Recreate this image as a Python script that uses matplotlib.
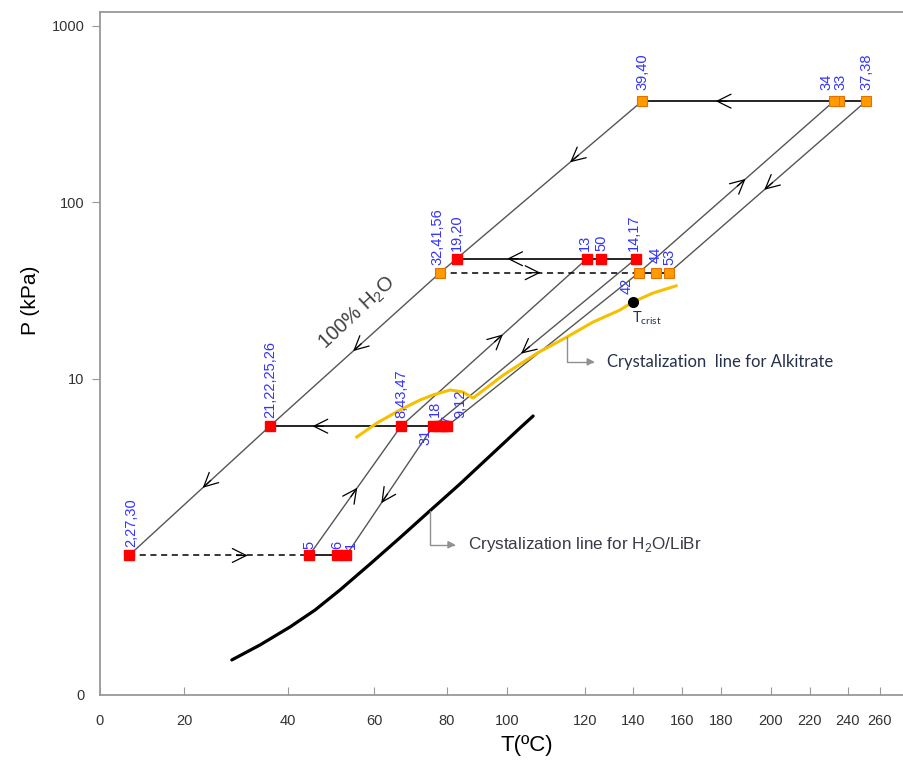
import numpy as np
import matplotlib.pyplot as plt

# Duhring-type chart of the absorption cycle (log pressure vs. temperature)

# points of the cycle, red = H2O/LiBr side, orange = alkitrate side
red_labels = ['2,27,30', '5', '6', '1',
              '21,22,25,26', '8,43,47', '31', '18', '7', '9,12',
              '19,20', '13', '50', '14,17']
red_T = [6.9, 44.9, 51.4, 53.5,
         36.5, 67.4, 76.2, 77.8, 79.2, 80.0,
         83.3, 120.8, 126.7, 141.2]
red_P = [1.0, 1.0, 1.0, 1.0,
         5.4, 5.4, 5.4, 5.4, 5.4, 5.4,
         48, 48, 48, 48]

orange_labels = ['32,41,56', '42', '44', '53', '39,40', '33', '34', '37,38']
orange_T = [78.1, 142.4, 149.4, 154.7, 143.7, 235.3, 232.6, 251.3]
orange_P = [40, 40, 40, 40, 375, 375, 375, 375]

# crystallization line of the alkitrate (yellow)
alk_T = [56.0, 60.8, 67.1, 72.6, 76.2, 81.0, 85.3, 88.7, 98.7, 107.7, 115.4, 123.3, 134.6, 140.0, 148.2, 157.6]
alk_P = [4.69, 5.63, 6.67, 7.60, 8.12, 8.66, 8.44, 7.80, 10.5, 14.0, 17.3, 21.0, 24.6, 27.3, 30.7, 33.7]
t_crist = (140.0, 27.3)

# crystallization line of H2O/LiBr (black)
libr_T = [29.2, 34.6, 40.5, 46.3, 52.1, 59.1, 67.1, 75.3, 84.3, 94.3, 103.3, 106.7]
libr_P = [0.256, 0.311, 0.394, 0.491, 0.638, 0.895, 1.26, 1.79, 2.54, 3.66, 5.27, 6.17]

# temperature axis of the original is not linear
x_ticks = [0, 20, 40, 60, 80, 100, 120, 140, 160, 180, 200, 220, 240, 260]
t_axis = x_ticks + [280]
t_axis_pos = [0, 84, 188, 274, 347, 407, 485, 533, 582, 621, 671, 710, 748, 780, 812]


def fwd(t):
    return np.interp(t, t_axis, t_axis_pos)


def inv(u):
    return np.interp(u, t_axis_pos, t_axis)


pts = {}
for lab, t, p in zip(red_labels, red_T, red_P):
    pts[lab] = (t, p)
for lab, t, p in zip(orange_labels, orange_T, orange_P):
    pts[lab] = (t, p)

fig = plt.figure(figsize=(9.04, 7.62), dpi=100)
ax = fig.add_axes([100 / 904, 1 - 695 / 762, 804 / 904, 683 / 762])
ax.set_xscale('function', functions=(fwd, inv))
ax.set_yscale('log')
ax.set_xlim(0, 275)
ax.set_ylim(0.162, 1200)

gray = '#555555'


def line(labels, **kw):
    xs = [pts[l][0] for l in labels]
    ys = [pts[l][1] for l in labels]
    ax.plot(xs, ys, **kw)


# constant concentration lines
line(['2,27,30', '21,22,25,26', '32,41,56', '39,40'], color=gray, lw=1.0, zorder=2)
line(['5', '8,43,47', '13'], color=gray, lw=1.0, zorder=2)
line(['1', '31', '14,17'], color=gray, lw=1.0, zorder=2)
line(['9,12', '42', '34'], color=gray, lw=1.0, zorder=2)
line(['53', '37,38'], color=gray, lw=1.0, zorder=2)

# pressure levels
line(['39,40', '37,38'], color='k', lw=1.2, zorder=2)
line(['19,20', '14,17'], color='k', lw=1.2, zorder=2)
line(['32,41,56', '42'], color='k', lw=1.1, ls=(0, (4, 3)), zorder=2)
line(['42', '53'], color='k', lw=1.2, zorder=2)
line(['21,22,25,26', '9,12'], color='k', lw=1.2, zorder=2)
line(['2,27,30', '5'], color='k', lw=1.1, ls=(0, (4, 3)), zorder=2)
line(['5', '1'], color='k', lw=1.2, zorder=2)

# crystallization lines
ax.plot(libr_T, libr_P, color='black', lw=2.3, solid_capstyle='round', solid_joinstyle='round', zorder=2)
ax.plot(alk_T, alk_P, color='#f5c000', lw=2.2, solid_joinstyle='round', zorder=2)
ax.plot(*t_crist, 'o', color='black', ms=7, zorder=4)

# markers
ax.plot(red_T, red_P, 's', color='#ff0000', ms=7.2, zorder=4)
ax.plot(orange_T, orange_P, 's', mfc='#ff9a00', mec='#e67000', mew=0.8, ms=7.2, zorder=4)

# point labels (offsets in pixels)
shift = {'2,27,30': (2, 8), '1': (5, 6), '6': (0, 6), '5': (0, 6),
         '18': (-4, 9), '7': (3, 2), '9,12': (13, 8),
         '32,41,56': (-3, 8), '13': (-2, 8), '14,17': (-2, 8),
         '44': (0, 10), '53': (0, 8),
         '39,40': (0, 11), '34': (-7, 11), '33': (1, 11), '37,38': (0, 11)}
below = {'31': (-8, -3), '42': (-12, -5)}
for lab, (t, p) in pts.items():
    if lab in below:
        ax.annotate(lab, (t, p), xytext=below[lab], textcoords='offset pixels',
                    rotation=90, ha='center', va='top', color='#3333ff',
                    fontsize=10.5, family='Liberation Sans', zorder=3)
    else:
        ax.annotate(lab, (t, p), xytext=shift.get(lab, (0, 8)), textcoords='offset pixels',
                    rotation=90, ha='center', va='bottom', color='#3333ff',
                    fontsize=10.5, family='Liberation Sans', zorder=3)


# flow direction arrows
def seg_arrow(a, b, frac):
    pa = ax.transData.transform(pts[a])
    pb = ax.transData.transform(pts[b])
    d = (pb - pa) / np.hypot(*(pb - pa))
    c = pa + frac * (pb - pa)
    ax.annotate('', xy=c + d * 7, xytext=c - d * 4, xycoords='figure pixels',
                textcoords='figure pixels',
                arrowprops=dict(arrowstyle='->,head_length=1.0,head_width=0.5',
                                color='k', lw=0.9, shrinkA=0, shrinkB=0), zorder=3)


seg_arrow('21,22,25,26', '2,27,30', 0.44)
seg_arrow('32,41,56', '21,22,25,26', 0.48)
seg_arrow('39,40', '32,41,56', 0.33)
seg_arrow('37,38', '39,40', 0.64)
seg_arrow('14,17', '19,20', 0.68)
seg_arrow('32,41,56', '42', 0.47)
seg_arrow('9,12', '21,22,25,26', 0.72)
seg_arrow('2,27,30', '5', 0.62)
seg_arrow('5', '8,43,47', 0.48)
seg_arrow('8,43,47', '13', 0.52)
seg_arrow('14,17', '31', 0.54)
seg_arrow('31', '1', 0.55)
seg_arrow('42', '34', 0.52)
seg_arrow('37,38', '53', 0.49)

# texts
ax.text(56.0, 23.5, r'100% H$_\mathregular{2}$O', rotation=43, ha='center', va='center',
        fontsize=14.5, color='#404040', family='Liberation Sans')
ax.text(139.6, 22.0, r'T$_\mathregular{crist}$', ha='left', va='center',
        fontsize=10.5, color='#223344', family='Lato')

lead = dict(arrowstyle='<|-,head_length=0.35,head_width=0.18', color='#909090', lw=1.0,
            connectionstyle='angle,angleA=0,angleB=90,rad=0', relpos=(0, 0.5),
            shrinkA=7, shrinkB=0)
ax.annotate(r'Crystalization line for H$_\mathregular{2}$O/LiBr', xy=(75.3, 1.79),
            xytext=(87.0, 1.15), ha='left', va='center', fontsize=12.3,
            color='#3a3a48', family=['Liberation Sans Narrow', 'Liberation Sans'],
            arrowprops=lead)
ax.annotate('Crystalization  line for Alkitrate', xy=(115.4, 17.3),
            xytext=(129.2, 12.5), ha='left', va='center', fontsize=12,
            color='#25304a', family='Lato', arrowprops=lead)

# axes
ax.set_xticks(x_ticks)
ax.set_xticklabels([str(v) for v in x_ticks], family=['Liberation Sans Narrow', 'Liberation Sans'],
                   fontsize=10.5, color='#333333')
ax.set_yticks([0.162, 10, 100, 1000])
ax.set_yticklabels(['0', '10', '100', '1000'], family='Liberation Sans', fontsize=10.5,
                   color='#333333')
ax.yaxis.set_minor_locator(plt.NullLocator())
ax.xaxis.set_minor_locator(plt.NullLocator())
ax.tick_params(axis='x', direction='in', length=6, pad=14, color='#999999')
ax.tick_params(axis='y', direction='out', length=6, pad=5, color='#999999')
ax.yaxis.get_major_ticks()[0].tick1line.set_visible(False)
ax.spines['right'].set_visible(False)
for s in ['left', 'top', 'bottom']:
    ax.spines[s].set_color('#999999')
    ax.spines[s].set_linewidth(1.3)

fig.text(30 / 904, 1 - 300 / 762, 'P (kPa)', rotation=90, ha='center', va='center',
         fontsize=15, family='Liberation Sans')
fig.text(527 / 904, 1 - 745 / 762, 'T(ºC)', ha='center', va='center',
         fontsize=16, family=['Liberation Sans Narrow', 'Liberation Sans'])

fig.savefig('out.png', dpi=100)
